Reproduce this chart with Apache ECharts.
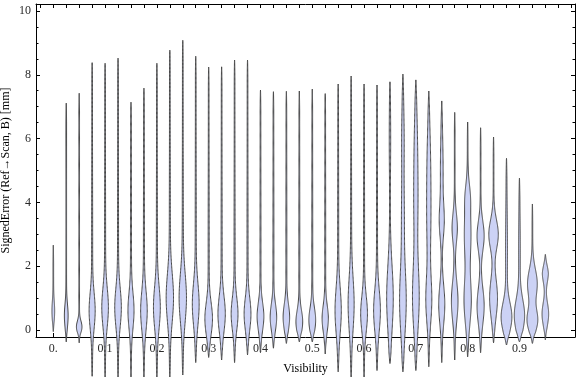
<!DOCTYPE html>
<html>
<head>
<meta charset="utf-8">
<script src="https://cdn.jsdelivr.net/npm/echarts@6/dist/echarts.min.js"></script>
<style>html,body{margin:0;padding:0;background:#fff}#c{width:576px;height:377px}</style>
</head>
<body>
<div id="c"></div>
<script>
// Visibility bins (0, 0.025, ..., 0.95) -> 39 violins
const bins = ['0','0.025','0.05','0.075','0.1','0.125','0.15','0.175','0.2','0.225','0.25','0.275','0.3','0.325','0.35','0.375','0.4','0.425','0.45','0.475','0.5','0.525','0.55','0.575','0.6','0.625','0.65','0.675','0.7','0.725','0.75','0.775','0.8','0.825','0.85','0.875','0.9','0.925','0.95'];
const xLabelIndex = [0,4,8,12,16,20,24,28,32,36];
const xLabelText = ['0.','0.1','0.2','0.3','0.4','0.5','0.6','0.7','0.8','0.9'];
const yMajor = [0,2,4,6,8,10];
const yMinor = [0.5,1,1.5,2.5,3,3.5,4.5,5,5.5,6.5,7,7.5,8.5,9,9.5];

// extremes of each distribution (mm)
const vMin = [-0.05,-0.37,-0.40,-1.45,-1.48,-1.48,-1.48,-1.48,-1.48,-1.48,-1.41,-1.02,-0.86,-0.94,-1.02,-0.78,-0.71,-0.57,-0.42,-0.37,-0.37,-0.75,-1.31,-1.48,-1.48,-1.27,-1.05,-1.31,-1.27,-1.15,-1.02,-0.94,-0.84,-0.71,-0.40,-0.47,-0.37,-0.42,-0.31];
const vMax = [2.66,7.11,7.42,8.38,8.36,8.52,7.14,7.58,8.36,8.77,9.08,8.58,8.24,8.25,8.46,8.46,7.52,7.47,7.48,7.49,7.55,7.41,7.71,7.96,7.71,7.68,7.78,8.02,7.84,7.49,7.18,6.82,6.52,6.34,6.05,5.38,4.76,3.95,2.37];

// density bumps of each violin: [centre (mm), relative density, spread (mm)]
const bumps = [
  [[0.6,0.08,0.3]],
  [[0.45,0.12,0.35]],
  [[0.1,0.19,0.18]],
  [[0.6,0.20,0.55],[2.5,0.015,2.0]],
  [[0.7,0.22,0.6],[2.5,0.015,2.0]],
  [[0.7,0.22,0.6],[2.5,0.015,2.0]],
  [[0.6,0.20,0.55],[2.5,0.015,2.0]],
  [[0.6,0.22,0.6],[2.5,0.015,2.0]],
  [[0.7,0.23,0.65],[2.5,0.015,2.0]],
  [[1.0,0.25,0.75],[3.0,0.015,2.0]],
  [[1.0,0.25,0.75],[3.0,0.015,2.0]],
  [[0.8,0.23,0.65],[3.0,0.015,2.0]],
  [[0.35,0.26,0.5],[2.5,0.015,2.0]],
  [[0.5,0.25,0.55],[2.5,0.015,2.0]],
  [[0.5,0.23,0.5],[2.5,0.015,2.0]],
  [[0.5,0.23,0.5],[2.5,0.015,2.0]],
  [[0.42,0.23,0.42],[2.5,0.012,2.0]],
  [[0.4,0.22,0.4],[2.5,0.012,2.0]],
  [[0.4,0.22,0.4],[2.5,0.012,2.0]],
  [[0.26,0.23,0.35],[2.5,0.012,2.0]],
  [[0.31,0.23,0.38],[2.5,0.012,2.0]],
  [[0.36,0.21,0.4],[2.5,0.012,2.0]],
  [[0.6,0.21,0.7],[3.0,0.015,2.0]],
  [[0.8,0.20,0.8],[3.0,0.015,2.0]],
  [[0.5,0.23,0.55],[3.0,0.015,2.0]],
  [[0.6,0.23,0.65],[3.0,0.015,2.0]],
  [[1.0,0.23,1.0],[6.0,0.03,1.0]],
  [[0.9,0.23,1.0],[3.5,0.08,1.0],[6.0,0.07,1.0]],
  [[1.0,0.23,1.0],[4.0,0.13,1.2],[6.0,0.07,1.0]],
  [[0.9,0.19,0.7],[3.5,0.13,1.3],[5.5,0.07,1.0]],
  [[0.8,0.21,0.6],[3.4,0.15,0.5],[5.0,0.08,1.0]],
  [[0.9,0.23,0.6],[3.2,0.18,0.45]],
  [[0.9,0.25,0.7],[3.0,0.23,0.8],[4.2,0.12,0.4]],
  [[0.75,0.25,0.55],[2.95,0.25,0.45]],
  [[1.0,0.28,0.6],[3.0,0.34,0.45]],
  [[0.4,0.38,0.45],[2.5,0.05,1.2]],
  [[0.45,0.37,0.5],[2.5,0.04,1.0]],
  [[0.3,0.38,0.35],[1.45,0.35,0.45]],
  [[0.5,0.23,0.35],[1.8,0.21,0.3]]
];

function halfWidth(i, y) {
  let w = 0.025;
  for (const b of bumps[i]) {
    const d = (y - b[0]) / b[2];
    w += b[1] * Math.exp(-0.5 * d * d);
  }
  const lo = vMin[i], hi = vMax[i];
  const t = Math.min(1, Math.sqrt(Math.max(0, (y - lo) / 0.35)), Math.sqrt(Math.max(0, (hi - y) / 0.6)));
  return w * t;
}

const chart = echarts.init(document.getElementById('c'), null, {renderer: 'canvas'});
const FONT = 'Liberation Serif';
const xMinV = -1.336, xMaxV = 40.29, yMinV = -0.219, yMaxV = 10.219;

function renderItem(params, api) {
  const i = params.dataIndex;
  const ix = api.value(0);
  const slot = api.size([1, 0])[0];
  const lo = vMin[i], hi = vMax[i];
  const n = 240;
  const right = [], left = [];
  for (let k = 0; k <= n; k++) {
    const y = lo + (hi - lo) * k / n;
    const hw = halfWidth(i, y) * slot;
    const p = api.coord([ix, y]);
    right.push([p[0] + hw, p[1]]);
    left.push([p[0] - hw, p[1]]);
  }
  const pts = right.concat(left.reverse());
  return {
    type: 'polygon',
    shape: {points: pts},
    style: {fill: '#ccd2f5', stroke: '#484848', lineWidth: 1, lineJoin: 'round'}
  };
}

const allTop = [];
for (let k = -1; k <= 40; k++) allTop.push(k);
const allBottom = bins.map((b, i) => i);

const baseAxisLine = {show: true, onZero: false, lineStyle: {color: '#000', width: 1}};
const noLine = {show: false, onZero: false};

chart.setOption({
  animation: false,
  backgroundColor: '#fff',
  grid: {left: 36, right: 1, top: 4, bottom: 40, containLabel: false, outerBoundsMode: 'none'},
  xAxis: [
    {type: 'value', min: xMinV, max: xMaxV, position: 'bottom',
     axisLine: baseAxisLine,
     axisTick: {show: true, inside: true, length: 4, customValues: allBottom, lineStyle: {color: '#000'}},
     axisLabel: {show: true, customValues: xLabelIndex, margin: 6, color: '#2a2a2a',
       fontFamily: FONT, fontSize: 12,
       formatter: v => { const k = xLabelIndex.indexOf(Math.round(v)); return k >= 0 ? xLabelText[k] : ''; }},
     splitLine: {show: false},
     name: 'Visibility', nameLocation: 'middle', nameGap: 26, nameMoveOverlap: false,
     nameTextStyle: {fontFamily: FONT, fontSize: 12, color: '#000'}},
    {type: 'value', min: xMinV, max: xMaxV, position: 'top',
     axisLine: baseAxisLine,
     axisTick: {show: true, inside: true, length: 4, customValues: allTop, lineStyle: {color: '#000'}},
     axisLabel: {show: false}, splitLine: {show: false}}
  ],
  yAxis: [
    {type: 'value', min: yMinV, max: yMaxV, position: 'left', offset: 0,
     axisLine: baseAxisLine,
     axisTick: {show: true, inside: true, length: 4, customValues: yMajor, lineStyle: {color: '#000'}},
     axisLabel: {show: true, customValues: yMajor, margin: 5, color: '#2a2a2a', fontFamily: FONT, fontSize: 12},
     splitLine: {show: false},
     name: 'SignedError (Ref\u2192Scan, B) [mm]', nameLocation: 'middle', nameGap: 24, nameMoveOverlap: false,
     nameTextStyle: {fontFamily: FONT, fontSize: 12, color: '#000'}},
    {type: 'value', min: yMinV, max: yMaxV, position: 'left', offset: 0,
     axisLine: noLine,
     axisTick: {show: true, inside: true, length: 2.5, customValues: yMinor, lineStyle: {color: '#000'}},
     axisLabel: {show: false}, splitLine: {show: false}},
    {type: 'value', min: yMinV, max: yMaxV, position: 'right', offset: 0,
     axisLine: baseAxisLine,
     axisTick: {show: true, inside: true, length: 4, customValues: yMajor, lineStyle: {color: '#000'}},
     axisLabel: {show: false}, splitLine: {show: false}},
    {type: 'value', min: yMinV, max: yMaxV, position: 'right', offset: 0,
     axisLine: noLine,
     axisTick: {show: true, inside: true, length: 2.5, customValues: yMinor, lineStyle: {color: '#000'}},
     axisLabel: {show: false}, splitLine: {show: false}}
  ],
  series: [{
    type: 'custom',
    xAxisIndex: 0, yAxisIndex: 0,
    clip: false,
    renderItem: renderItem,
    encode: {x: 0, y: [1, 2]},
    data: bins.map((b, i) => [i, vMin[i], vMax[i]]),
    z: 3
  }]
});
</script>
</body>
</html>
